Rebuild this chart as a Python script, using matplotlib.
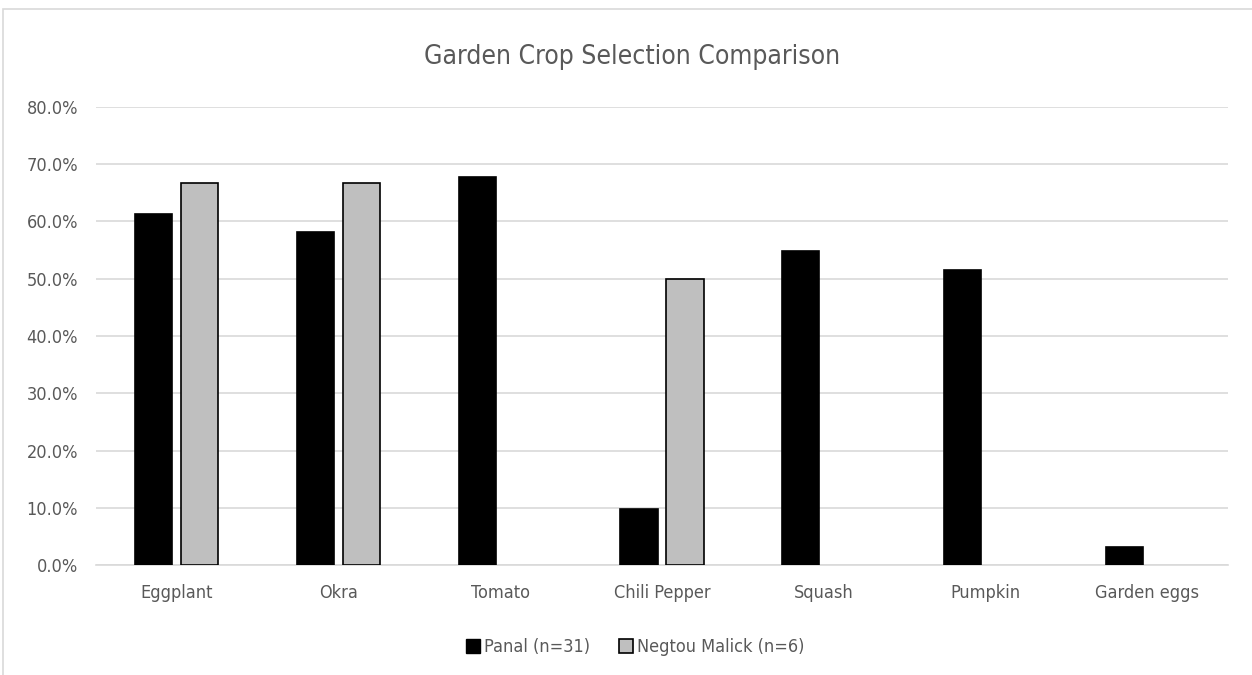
import numpy as np
import matplotlib
matplotlib.use("Agg")
import matplotlib.pyplot as plt
from matplotlib.patches import Rectangle, Patch
from matplotlib.ticker import PercentFormatter

# data
crops = ['Eggplant', 'Okra', 'Tomato', 'Chili Pepper', 'Squash', 'Pumpkin', 'Garden eggs']
panal = [0.613, 0.581, 0.677, 0.097, 0.548, 0.516, 0.032]
negtou = [0.667, 0.667, 0.0, 0.50, 0.0, 0.0, 0.0]
series_names = ['Panal (n=31)', 'Negtou Malick (n=6)']

plt.rcParams['font.family'] = ['DejaVu Sans']
plt.rcParams['font.stretch'] = 'condensed'
txt = '#595959'

fig = plt.figure(figsize=(12.52, 6.75), dpi=100)
# chart-area border (runs off the right/bottom edge like the reference)
fig.patches.append(Rectangle((3 / 1252, -0.1), 1.2, 1 - 9 / 675 + 0.1, transform=fig.transFigure,
                             fill=False, edgecolor='#d9d9d9', lw=1.2))

ax = fig.add_axes([96 / 1252, 1 - 565 / 675, (1228 - 96) / 1252, (565 - 107) / 675])
x = np.arange(len(crops))
w = 0.23
ax.bar(x - 0.142, panal, w, color='black', edgecolor='black', lw=1.2, zorder=3)
ax.bar(x + 0.142, [v if v > 0 else np.nan for v in negtou], w, color='#bfbfbf',
       edgecolor='black', lw=1.2, zorder=3)

ax.set_xlim(-0.5, len(crops) - 0.5)
ax.set_ylim(0, 0.8)
ax.set_yticks(np.arange(0, 0.81, 0.1))
ax.yaxis.set_major_formatter(PercentFormatter(1.0, decimals=1))
ax.grid(axis='y', color='#d9d9d9', lw=1.2, zorder=0)
ax.set_xticks(x)
ax.set_xticklabels(crops)
for s in ['top', 'right', 'left']:
    ax.spines[s].set_visible(False)
ax.spines['bottom'].set_color('#d9d9d9')
ax.spines['bottom'].set_linewidth(1.2)
ax.tick_params(length=0, colors=txt, labelsize=13)
ax.tick_params(axis='x', pad=14)
ax.tick_params(axis='y', pad=13)

fig.text(0.505, 1 - 57 / 675, 'Garden Crop Selection Comparison', ha='center', va='center',
         fontsize=19, color=txt)

handles = [Patch(facecolor='black', edgecolor='black'),
           Patch(facecolor='#bfbfbf', edgecolor='black', lw=1.2)]
fig.legend(handles, series_names, loc='center', bbox_to_anchor=(635 / 1252, 1 - 647 / 675),
           ncol=2, frameon=False, fontsize=13, labelcolor=txt, handlelength=0.8,
           handleheight=0.8, handletextpad=0.2, columnspacing=1.6)

fig.savefig('out.png', dpi=100)
